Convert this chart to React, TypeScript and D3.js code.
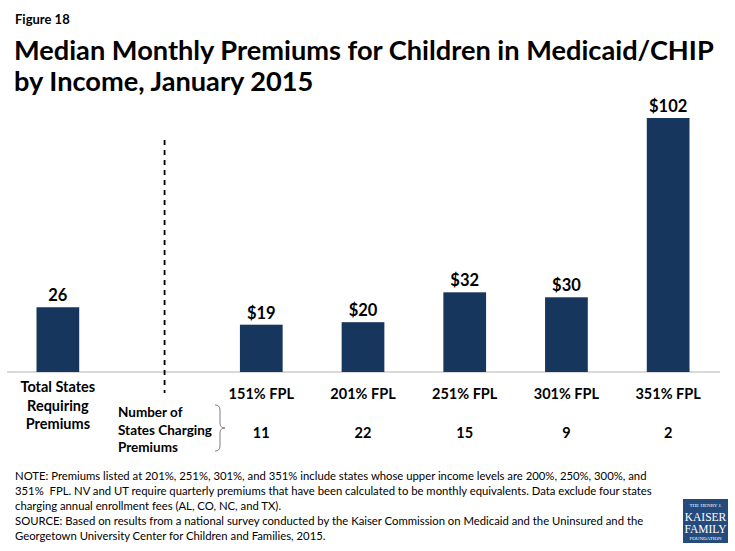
import React from 'react';
import * as d3 from 'd3';

// chart data
const slots = ['total', 'divider', '151% FPL', '201% FPL', '251% FPL', '301% FPL', '351% FPL'];
const totalLabel = ['Total States', 'Requiring', 'Premiums'];
const totalStates = 26;
const fplLabels = ['151% FPL', '201% FPL', '251% FPL', '301% FPL', '351% FPL'];
const premiums = [19, 20, 32, 30, 102];
const statesCharging = [11, 22, 15, 9, 2];
const countLabel = ['Number of', 'States Charging', 'Premiums'];

const noteLines = [
  'NOTE: Premiums listed at 201%, 251%, 301%, and 351% include states whose upper income levels are 200%, 250%, 300%, and',
  '351%  FPL. NV and UT require quarterly premiums that have been calculated to be monthly equivalents. Data exclude four states',
  'charging annual enrollment fees (AL, CO, NC, and TX).',
  'SOURCE: Based on results from a national survey conducted by the Kaiser Commission on Medicaid and the Uninsured and the',
  'Georgetown University Center for Children and Families, 2015.',
];

const W = 735;
const H = 551;
const FONT = 'Lato, "Open Sans", sans-serif';
const BAR = '#17365d';

const App: React.FC = () => {
  const x = d3.scaleBand<string>()
    .domain(slots)
    .range([7, 719])
    .paddingInner(0.58)
    .paddingOuter(0.29);

  const y = d3.scaleLinear()
    .domain([0, 102])
    .range([372, 118]);

  const bw = x.bandwidth();
  const cx = (k: string) => (x(k) ?? 0) + bw / 2;
  const dividerX = cx('divider') + 5;

  const bars = [
    { key: 'total', value: totalStates, label: String(totalStates) },
    ...fplLabels.map((k, i) => ({ key: k, value: premiums[i], label: `$${premiums[i]}` })),
  ];

  // brace next to "Number of States Charging Premiums"
  const bx = 220, bt = 405, bb = 451, bm = (bt + bb) / 2;
  const brace = `M${bx - 5},${bt} Q${bx},${bt} ${bx},${bt + 5} L${bx},${bm - 5} Q${bx},${bm} ${bx + 5},${bm} Q${bx},${bm} ${bx},${bm + 5} L${bx},${bb - 5} Q${bx},${bb} ${bx - 5},${bb}`;

  return (
    <svg width={W} height={H} style={{ position: 'absolute', left: 0, top: 0, background: '#fff' }} fontFamily={FONT}>
      <text x={15} y={24} fontSize={13} fontWeight={700} fill="#000">Figure 18</text>
      <text x={14} y={60} fontSize={27.2} fontWeight={700} fill="#000">Median Monthly Premiums for Children in Medicaid/CHIP</text>
      <text x={14} y={91} fontSize={27.2} fontWeight={700} fill="#000">by Income, January 2015</text>

      {/* baseline */}
      <line x1={7} x2={720} y1={y(0)} y2={y(0)} stroke="#d9d9d9" strokeWidth={2} />

      {/* divider */}
      <line x1={dividerX} x2={dividerX} y1={140} y2={393} stroke="#000" strokeWidth={1.8} strokeDasharray="5,5" />

      {bars.map(b => (
        <g key={b.key}>
          <rect x={x(b.key)} y={y(b.value)} width={bw} height={y(0) - y(b.value)} fill={BAR} />
          <text x={cx(b.key)} y={y(b.value) - 6} textAnchor="middle" fontSize={16.5} fontWeight={700} fill="#000">{b.label}</text>
        </g>
      ))}

      {totalLabel.map((t, i) => (
        <text key={t} x={cx('total')} y={392 + i * 18.5} textAnchor="middle" fontSize={14.5} fontWeight={700} fill="#000">{t}</text>
      ))}

      {fplLabels.map(k => (
        <text key={k} x={cx(k)} y={399} textAnchor="middle" fontSize={14.5} fontWeight={700} fill="#000">{k}</text>
      ))}

      {countLabel.map((t, i) => (
        <text key={t} x={118} y={417 + i * 17.5} fontSize={13.5} fontWeight={700} fill="#000">{t}</text>
      ))}
      <path d={brace} fill="none" stroke="#7f7f7f" strokeWidth={1} />

      {fplLabels.map((k, i) => (
        <text key={k} x={cx(k)} y={438} textAnchor="middle" fontSize={14.5} fontWeight={700} fill="#000">{statesCharging[i]}</text>
      ))}

      {noteLines.map((t, i) => (
        <text key={i} x={15} y={480 + i * 15} fontSize={11.3} fill="#000" style={{ whiteSpace: 'pre' }}>{t}</text>
      ))}

      {/* logo */}
      <g fontFamily='"Liberation Serif", "DejaVu Serif", serif' fill="#fff" textAnchor="middle">
        <rect x={683} y={499} width={45} height={44} fill="#254a7c" />
        <text x={705.5} y={507} fontSize={5}>THE HENRY J.</text>
        <text x={705.5} y={521} fontSize={11.5}>KAISER</text>
        <text x={705.5} y={533} fontSize={11.5}>FAMILY</text>
        <text x={705.5} y={540} fontSize={5}>FOUNDATION</text>
      </g>
    </svg>
  );
};

export default App;
